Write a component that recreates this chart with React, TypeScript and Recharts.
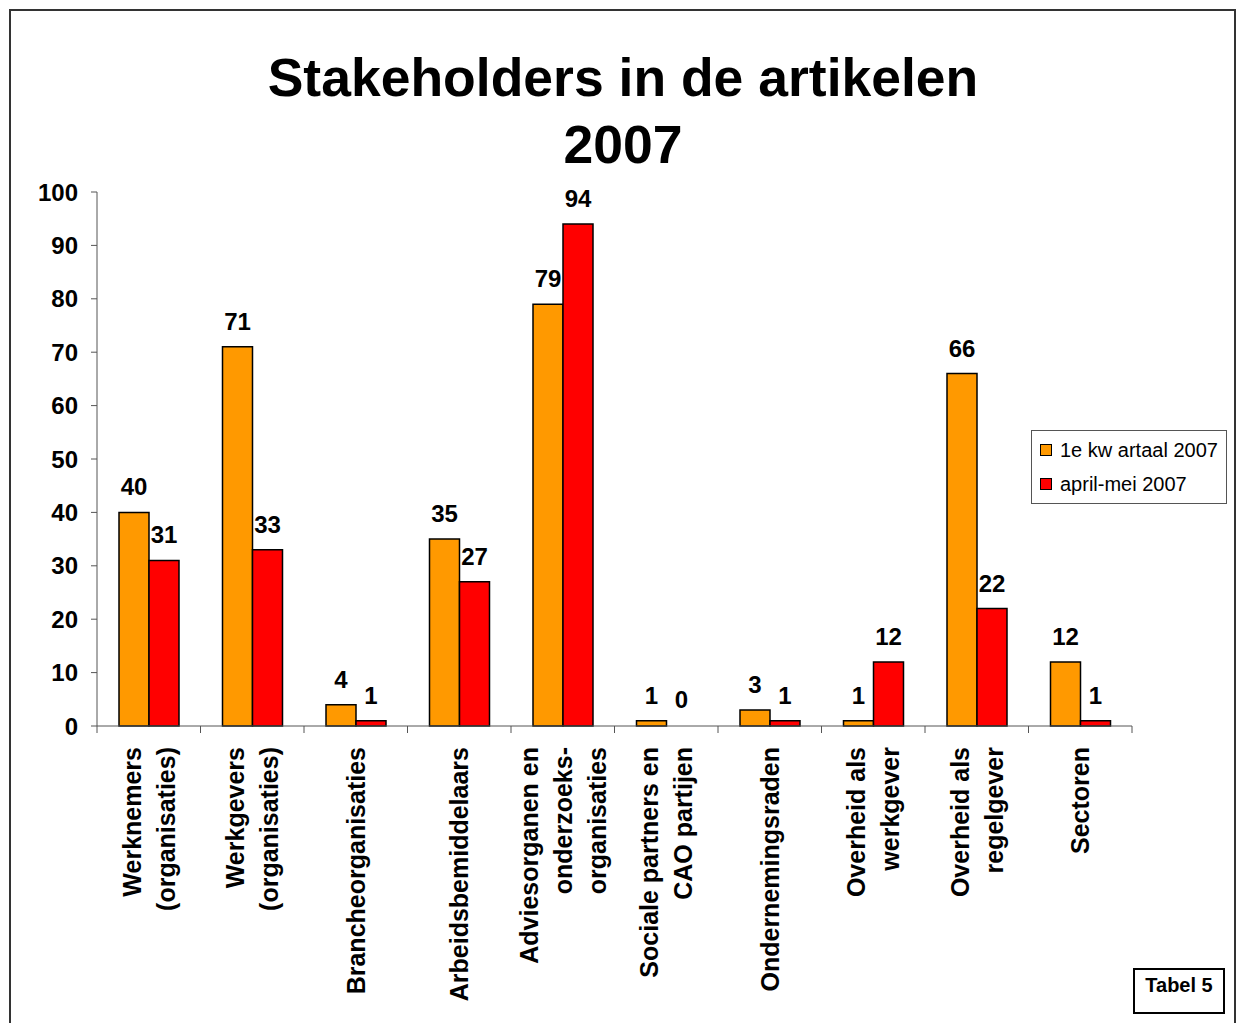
import { BarChart, Bar, XAxis, YAxis, LabelList, Cell } from "recharts";

const categories = [
  "Werknemers\n(organisaties)",
  "Werkgevers\n(organisaties)",
  "Brancheorganisaties",
  "Arbeidsbemiddelaars",
  "Adviesorganen en\nonderzoeks-\norganisaties",
  "Sociale partners en\nCAO partijen",
  "Ondernemingsraden",
  "Overheid als\nwerkgever",
  "Overheid als\nregelgever",
  "Sectoren",
];
const kwartaal = [40, 71, 4, 35, 79, 1, 3, 1, 66, 12];
const aprilMei = [31, 33, 1, 27, 94, 0, 1, 12, 22, 1];
const yTicks = [0, 10, 20, 30, 40, 50, 60, 70, 80, 90, 100];
const boundaryTicks = [0, 1, 2, 3, 4, 5, 6, 7, 8, 9, 10];
const seriesNames = ["1e kw artaal 2007", "april-mei 2007"];
const seriesColors = ["#FF9900", "#FF0000"];

// slot = category index + 0.5, used only by the boundary-tick axis
const data = categories.map((name, i) => ({
  name,
  slot: i + 0.5,
  kwartaal: kwartaal[i],
  aprilMei: aprilMei[i],
}));

const FONT = "'Liberation Sans', Arial, Helvetica, sans-serif";

const CategoryTick = (props: any) => {
  const { x, y, payload } = props;
  const lines = String(payload.value).split("\n");
  const lh = 34;
  return (
    <g transform={`translate(${x},${y})`}>
      {lines.map((ln, i) => (
        <text
          key={i}
          transform="rotate(-90)"
          x={0}
          y={(i - (lines.length - 1) / 2) * lh + 9}
          textAnchor="end"
          fontFamily={FONT}
          fontWeight="bold"
          fontSize={25}
          fill="#000"
        >
          {ln}
        </text>
      ))}
    </g>
  );
};

const EmptyTick = () => <g />;

// zero values still get a (hidden) 1px bar so their "0" label shows
const zeroMin = (value: any) => (value === 0 ? 1 : 0);

export default function App() {
  return (
    <div
      style={{
        position: "absolute",
        left: 0,
        top: 0,
        width: 1236,
        height: 1023,
        background: "#fff",
        overflow: "hidden",
        fontFamily: FONT,
      }}
    >
      <div
        style={{
          position: "absolute",
          left: 9,
          top: 9,
          width: 1223,
          height: 1030,
          border: "2px solid #333",
        }}
      />
      <div
        style={{
          position: "absolute",
          left: 0,
          top: 44,
          width: 1246,
          textAlign: "center",
          fontWeight: "bold",
          fontSize: 53.5,
          lineHeight: "67px",
          color: "#000",
        }}
      >
        Stakeholders in de artikelen
        <br />
        2007
      </div>
      <div style={{ position: "absolute", left: 0, top: 0 }}>
        <BarChart
          width={1236}
          height={1023}
          data={data}
          margin={{ top: 192, right: 104, bottom: 6, left: 0 }}
          barGap={0}
          barSize={30}
        >
          <XAxis
            xAxisId="a"
            dataKey="slot"
            type="number"
            scale="linear"
            domain={[0, 10]}
            ticks={boundaryTicks}
            interval={0}
            tick={<EmptyTick />}
            tickLine={{ stroke: "#555" }}
            tickSize={7}
            height={1}
            stroke="#555"
            allowDataOverflow
          />
          <XAxis
            xAxisId="cat"
            dataKey="name"
            height={290}
            axisLine={false}
            tickLine={false}
            tickSize={0}
            tickMargin={20}
            interval={0}
            tick={<CategoryTick />}
          />
          <YAxis
            domain={[0, 100]}
            ticks={yTicks}
            width={97}
            stroke="#555"
            tickSize={6}
            tickMargin={13}
            tick={{ fill: "#000", fontSize: 24, fontWeight: "bold", fontFamily: FONT }}
            interval={0}
          />
          <Bar
            xAxisId="cat"
            dataKey="kwartaal"
            name={seriesNames[0]}
            fill={seriesColors[0]}
            stroke="#000"
            strokeWidth={1.5}
            minPointSize={zeroMin}
            isAnimationActive={false}
          >
            {kwartaal.map((v, i) => (
              <Cell
                key={`k-${i}`}
                fill={v === 0 ? "none" : seriesColors[0]}
                stroke={v === 0 ? "none" : "#000"}
              />
            ))}
            <LabelList
              dataKey="kwartaal"
              position="top"
              offset={17}
              fill="#000"
              fontSize={24}
              fontWeight="bold"
              fontFamily={FONT}
            />
          </Bar>
          <Bar
            xAxisId="cat"
            dataKey="aprilMei"
            name={seriesNames[1]}
            fill={seriesColors[1]}
            stroke="#000"
            strokeWidth={1.5}
            minPointSize={zeroMin}
            isAnimationActive={false}
          >
            {aprilMei.map((v, i) => (
              <Cell
                key={`a-${i}`}
                fill={v === 0 ? "none" : seriesColors[1]}
                stroke={v === 0 ? "none" : "#000"}
              />
            ))}
            <LabelList
              dataKey="aprilMei"
              position="top"
              offset={17}
              fill="#000"
              fontSize={24}
              fontWeight="bold"
              fontFamily={FONT}
            />
          </Bar>
        </BarChart>
      </div>
      <div
        style={{
          position: "absolute",
          left: 1031,
          top: 430,
          width: 196,
          height: 74,
          boxSizing: "border-box",
          border: "1px solid #555",
          fontSize: 20,
          padding: "2px 0 0 8px",
          background: "#fff",
        }}
      >
        {seriesNames.map((label, i) => (
          <div key={label} style={{ display: "flex", alignItems: "center", height: 34 }}>
            <span
              style={{
                display: "inline-block",
                width: 10,
                height: 10,
                background: seriesColors[i],
                border: "1px solid #000",
                marginRight: 8,
              }}
            />
            <span>{label}</span>
          </div>
        ))}
      </div>
      <div
        style={{
          position: "absolute",
          left: 1133,
          top: 968,
          width: 92,
          height: 46,
          boxSizing: "border-box",
          border: "2px solid #000",
          fontWeight: "bold",
          fontSize: 20,
          textAlign: "center",
          paddingTop: 4,
        }}
      >
        Tabel 5
      </div>
    </div>
  );
}
